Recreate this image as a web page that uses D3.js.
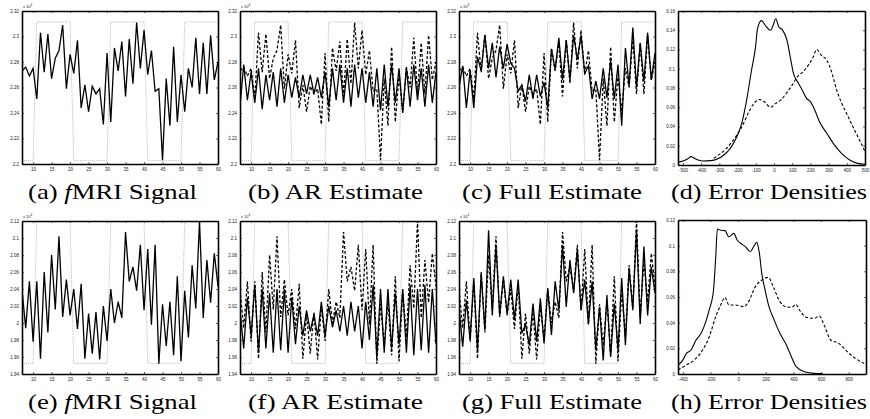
<!DOCTYPE html>
<html><head><meta charset="utf-8">
<script src="https://cdn.jsdelivr.net/npm/d3@7/dist/d3.min.js"></script>
<style>
body{margin:0;background:#fff}
svg{display:block}
.tick text{font-family:"Liberation Sans",Arial,sans-serif;font-size:4.5px;fill:#222}
.cap{font-family:"Liberation Serif","Times New Roman",serif;font-size:22px;fill:#000}
</style></head><body>
<script>
// ---------------- DATA ----------------
const timeX = d3.range(7, 61); // scan index 7..60
const xTicksTS = [10,15,20,25,30,35,40,45,50,55,60];
const stimulus = [0,0,0,0, 1,1,1,1,1,1,1,1,1,1, 0,0,0,0,0,0,0,0,0,0, 1,1,1,1,1,1,1,1,1,1, 0,0,0,0,0,0,0,0,0,0, 1,1,1,1,1,1,1,1,1,1];

// top row (units of 1e4)
const yTicksTop = [2.2,2.22,2.24,2.26,2.28,2.3,2.32];
const stimLevelsTop = [2.2026, 2.3114];
const signalTop = [2.273,2.276,2.269,2.275,2.251,2.303,2.272,2.302,2.267,2.283,2.289,2.309,2.259,2.286,2.271,2.297,2.244,2.262,2.241,2.261,2.255,2.259,2.231,2.287,2.233,2.291,2.273,2.296,2.253,2.298,2.263,2.311,2.275,2.305,2.270,2.289,2.257,2.259,2.203,2.267,2.230,2.292,2.233,2.270,2.241,2.275,2.260,2.299,2.255,2.295,2.255,2.301,2.266,2.280];
const arTop = [2.245,2.278,2.250,2.272,2.248,2.275,2.243,2.270,2.250,2.272,2.245,2.275,2.248,2.270,2.252,2.268,2.252,2.270,2.255,2.270,2.255,2.268,2.252,2.272,2.245,2.275,2.250,2.278,2.248,2.275,2.245,2.278,2.252,2.275,2.248,2.272,2.245,2.275,2.242,2.278,2.245,2.278,2.248,2.275,2.240,2.276,2.245,2.278,2.250,2.275,2.245,2.278,2.248,2.272];
const fullTop = [2.260,2.277,2.244,2.273,2.244,2.284,2.273,2.301,2.275,2.295,2.268,2.292,2.275,2.294,2.279,2.275,2.257,2.262,2.249,2.270,2.251,2.270,2.253,2.264,2.244,2.290,2.274,2.299,2.266,2.297,2.266,2.301,2.282,2.301,2.271,2.277,2.251,2.265,2.251,2.275,2.252,2.281,2.251,2.278,2.230,2.291,2.261,2.307,2.260,2.295,2.265,2.303,2.266,2.287];

// bottom row (units of 1e4)
const yTicksBot = [1.94,1.96,1.98,2,2.02,2.04,2.06,2.08,2.1,2.12];
const stimLevelsBot = [1.9525, 2.1190];
const signalBot = [2.039,1.994,2.049,1.978,2.049,1.958,2.060,1.989,2.080,2.016,2.102,2.007,2.051,2.009,2.040,1.993,2.046,1.958,2.011,1.964,2.013,1.957,2.020,1.979,2.040,2.000,2.025,2.006,2.107,2.049,2.066,2.038,2.092,2.015,2.087,1.998,2.092,1.952,2.022,1.973,2.025,1.962,2.055,1.955,2.038,1.983,2.068,2.017,2.120,2.006,2.074,2.024,2.082,2.043];
const arBot = [2.015,1.970,2.030,1.985,2.045,1.965,2.040,1.970,2.035,1.965,2.040,1.968,2.040,1.965,2.030,1.975,2.020,1.985,2.015,1.990,2.010,1.985,2.025,1.985,2.020,1.995,2.015,1.990,2.020,1.985,2.025,1.990,2.020,1.970,2.025,1.980,2.045,1.960,2.040,1.965,2.040,1.970,2.035,1.975,2.040,1.965,2.045,1.962,2.040,1.968,2.045,1.965,2.040,1.975];
const fullBot = [2.019,1.972,2.027,1.980,2.053,1.968,2.058,1.992,2.109,2.009,2.092,2.009,2.055,2.011,2.051,2.004,2.051,1.988,1.998,1.974,2.023,1.978,2.029,1.976,2.041,1.986,2.049,2.015,2.092,2.019,2.074,2.035,2.086,2.015,2.051,1.999,2.049,1.968,2.019,1.956,2.033,1.960,2.023,1.968,2.053,1.974,2.064,2.015,2.109,1.999,2.090,2.009,2.066,2.035];

// error densities
const xTicksDensTop = [-500,-400,-300,-200,-100,0,100,200,300,400,500];
const yTicksDensTop = [0,0.02,0.04,0.06,0.08,0.1,0.12,0.14,0.16];
const densFullTop = [[-527,0.0028],[-500,0.0042],[-473,0.0065],[-455,0.0087],[-428,0.006],[-392,0.0042],[-347,0.0045],[-311,0.0062],[-275,0.0104],[-240,0.0173],[-204,0.0294],[-177,0.0433],[-150,0.0675],[-123,0.0987],[-101,0.123],[-91,0.141],[-69,0.150],[-42,0.1437],[-19,0.140],[-4,0.1455],[10,0.152],[26,0.1437],[48,0.140],[71,0.130],[89,0.1126],[107,0.0953],[132,0.0856],[155,0.0779],[179,0.0693],[200,0.0658],[224,0.0572],[250,0.045],[290,0.033],[326,0.0225],[371,0.0121],[416,0.0052],[460,0.0017],[500,0.0007]];
const densARTop = [[-330,0.007],[-300,0.011],[-267,0.016],[-235,0.023],[-204,0.031],[-170,0.042],[-141,0.054],[-110,0.064],[-80,0.068],[-55,0.066],[-19,0.060],[10,0.064],[40,0.068],[70,0.075],[100,0.083],[130,0.092],[160,0.097],[190,0.104],[215,0.112],[235,0.120],[260,0.114],[290,0.109],[313,0.099],[344,0.078],[370,0.065],[398,0.054],[443,0.036],[475,0.024],[500,0.014]];
const xTicksDensBot = [-400,-200,0,200,400,600,800];
const yTicksDensBot = [0,0.02,0.04,0.06,0.08,0.1,0.12];
const densFullBot = [[-435,0.007],[-399,0.011],[-375,0.016],[-340,0.0187],[-304,0.0265],[-268,0.0317],[-238,0.0395],[-209,0.050],[-178,0.0655],[-162,0.0914],[-150,0.113],[-126,0.112],[-95,0.1117],[-67,0.107],[-31,0.1096],[-7,0.1044],[29,0.101],[52,0.0992],[88,0.0953],[112,0.0992],[135,0.1026],[154,0.094],[171,0.0784],[195,0.0655],[223,0.0525],[261,0.042],[302,0.0317],[349,0.0226],[385,0.0135],[420,0.0057],[480,0.0018],[551,0.0005],[610,0.0003]];
const densARBot = [[-435,0.0031],[-375,0.007],[-316,0.011],[-257,0.0187],[-209,0.029],[-162,0.0447],[-126,0.0538],[-95,0.0597],[-67,0.0538],[-19,0.0538],[40,0.0525],[76,0.0564],[124,0.068],[171,0.0732],[219,0.0753],[254,0.068],[302,0.0564],[361,0.052],[397,0.0525],[416,0.0543],[444,0.0499],[492,0.0442],[551,0.0434],[587,0.0452],[622,0.0382],[670,0.0265],[729,0.0239],[789,0.0174],[848,0.0122],[919,0.0078]];

const captions = [
  ["(a) ", "f", "MRI Signal"], ["(b) AR Estimate"], ["(c) Full Estimate"], ["(d) Error Densities"],
  ["(e) ", "f", "MRI Signal"], ["(f) AR Estimate"], ["(g) Full Estimate"], ["(h) Error Densities"]
];

// ---------------- DRAW ----------------
const W = 870, H = 419;
const svg = d3.select("body").append("svg").attr("width", W).attr("height", H);
let clipId = 0;

function frame(g, x, y, xTicks, yTicks) {
  const [l, r] = x.range(), [b, t] = y.range();
  const fmt = d => String(d);
  const ax = [
    g.append("g").attr("transform", `translate(0,${b})`).call(d3.axisBottom(x).tickValues(xTicks).tickFormat(fmt).tickSizeInner(-2).tickSizeOuter(0).tickPadding(4)),
    g.append("g").attr("transform", `translate(0,${t})`).call(d3.axisTop(x).tickValues(xTicks).tickFormat("").tickSizeInner(-2).tickSizeOuter(0)),
    g.append("g").attr("transform", `translate(${l},0)`).call(d3.axisLeft(y).tickValues(yTicks).tickFormat(fmt).tickSizeInner(-2).tickSizeOuter(0).tickPadding(3)),
    g.append("g").attr("transform", `translate(${r},0)`).call(d3.axisRight(y).tickValues(yTicks).tickFormat("").tickSizeInner(-2).tickSizeOuter(0))
  ];
  ax.forEach(a => {
    a.select(".domain").attr("stroke", "#000").attr("stroke-width", 1.6);
    a.selectAll(".tick line").attr("stroke", "#000").attr("stroke-width", 0.6);
  });
}

function clip(g, x, y) {
  const id = "c" + (clipId++);
  const [l, r] = x.range(), [b, t] = y.range();
  g.append("clipPath").attr("id", id).append("rect").attr("x", l).attr("y", t).attr("width", r - l).attr("height", b - t);
  return g.append("g").attr("clip-path", `url(#${id})`);
}

function exponent(g, l, t) {
  const tx = g.append("text").attr("x", l + 1).attr("y", t - 3)
    .style("font-family", "Liberation Sans,Arial,sans-serif").style("font-size", "4px").attr("fill", "#222");
  tx.append("tspan").text("x 10");
  tx.append("tspan").attr("dy", -2).style("font-size", "3px").text("4");
}

function tsPanel(box, yTicks, stimLevels, series) {
  const g = svg.append("g");
  const x = d3.scaleLinear().domain([7, 60]).range([box[0], box[1]]);
  const y = d3.scaleLinear().domain([yTicks[0], yTicks[yTicks.length - 1]]).range([box[3], box[2]]);
  const c = clip(g, x, y);
  const stimLine = d3.line().x((d, i) => x(timeX[i])).y(d => y(stimLevels[d]));
  c.append("path").attr("d", stimLine(stimulus)).attr("fill", "none")
    .attr("stroke", "#a8a8a8").attr("stroke-width", 0.8).attr("stroke-dasharray", "1,1");
  const line = d3.line().x((d, i) => x(timeX[i])).y(d => y(d));
  series.forEach(s => {
    c.append("path").attr("d", line(s.data)).attr("fill", "none").attr("stroke", "#000")
      .attr("stroke-width", 1.3).attr("stroke-dasharray", s.dash ? "3,2" : null).attr("stroke-linejoin", "miter");
  });
  frame(g, x, y, xTicksTS, yTicks);
  exponent(g, box[0], box[2]);
}

function densPanel(box, xDomain, xTicks, yTicks, full, ar) {
  const g = svg.append("g");
  const x = d3.scaleLinear().domain(xDomain).range([box[0], box[1]]);
  const y = d3.scaleLinear().domain([yTicks[0], yTicks[yTicks.length - 1]]).range([box[3], box[2]]);
  const c = clip(g, x, y);
  const line = d3.line().x(d => x(d[0])).y(d => y(d[1])).curve(d3.curveMonotoneX);
  c.append("path").attr("d", line(ar)).attr("fill", "none").attr("stroke", "#000").attr("stroke-width", 1.1).attr("stroke-dasharray", "3,2");
  c.append("path").attr("d", line(full)).attr("fill", "none").attr("stroke", "#000").attr("stroke-width", 1.1);
  frame(g, x, y, xTicks, yTicks);
}

// top row
tsPanel([22, 218, 11, 164], yTicksTop, stimLevelsTop, [{data: signalTop}]);
tsPanel([240, 436, 11, 164], yTicksTop, stimLevelsTop, [{data: signalTop, dash: true}, {data: arTop}]);
tsPanel([459, 655, 11, 164], yTicksTop, stimLevelsTop, [{data: signalTop, dash: true}, {data: fullTop}]);
densPanel([678, 865, 11, 165], [-527, 500], xTicksDensTop, yTicksDensTop, densFullTop, densARTop);
// bottom row
tsPanel([22, 218, 221, 374], yTicksBot, stimLevelsBot, [{data: signalBot}]);
tsPanel([240, 436, 221, 374], yTicksBot, stimLevelsBot, [{data: signalBot, dash: true}, {data: arBot}]);
tsPanel([459, 655, 221, 374], yTicksBot, stimLevelsBot, [{data: signalBot, dash: true}, {data: fullBot}]);
densPanel([678, 866, 220, 374], [-435, 925], xTicksDensBot, yTicksDensBot, densFullBot, densARBot);

// captions: [x, baseline, width]
const capPos = [[28, 199, 169], [248, 199, 175], [462, 199, 180], [671, 199, 196], [28, 409, 169], [248, 409, 175], [462, 409, 180], [671, 409, 196]];
captions.forEach((parts, i) => {
  const t = svg.append("text").attr("class", "cap").attr("x", capPos[i][0]).attr("y", capPos[i][1])
    .attr("textLength", capPos[i][2]).attr("lengthAdjust", "spacingAndGlyphs");
  parts.forEach(p => {
    const ts = t.append("tspan").text(p);
    if (p === "f") ts.style("font-style", "italic");
  });
});
</script>
</body></html>
